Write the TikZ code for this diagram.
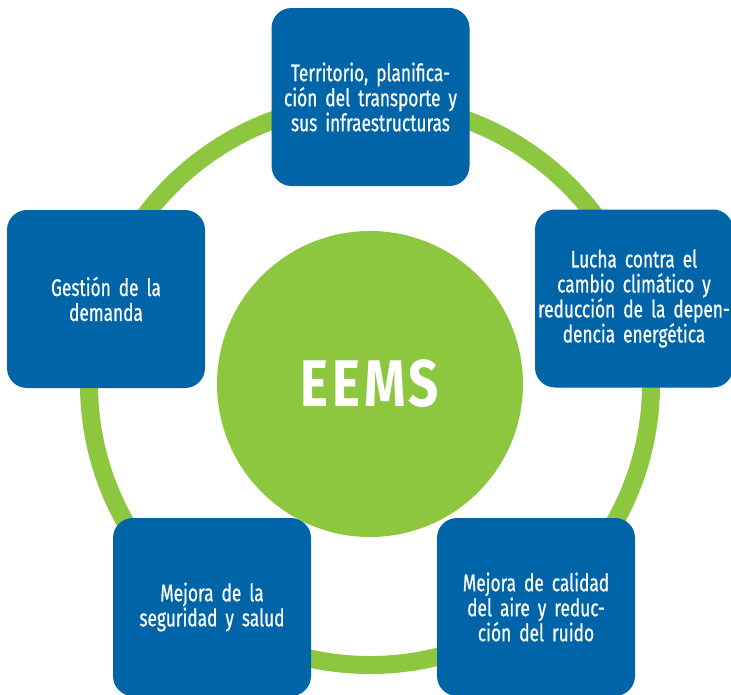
\documentclass[tikz,border=0pt]{standalone}
\usepackage{fontspec}
\newfontfamily\condfont[FakeStretch=0.72,FakeBold=0.6,WordSpace=0.6]{Fira Sans}
\newfontfamily\boldcond[FakeStretch=0.8,LetterSpace=6]{Fira Sans Bold}
\definecolor{eemsgreen}{RGB}{141,198,63}
\definecolor{eemsblue}{RGB}{0,101,168}
\tikzset{
  topic/.style={fill=eemsblue, rounded corners=20pt, minimum width=198pt, minimum height=178pt,
    text=white, align=center, inner sep=0pt, text width=197pt,
    font=\condfont\fontsize{24}{25}\selectfont},
  hub/.style={circle, fill=eemsgreen, minimum size=306pt, inner sep=0pt, text=white,
    font=\boldcond\fontsize{66}{70}\selectfont},
  ring/.style={draw=eemsgreen, line width=18pt}
}
\begin{document}
\begin{tikzpicture}[x=1pt,y=-1pt]
\useasboundingbox (0,0) rectangle (731,694);
\coordinate (c) at (370,384);
\draw[ring] (c) circle[radius=281];
\node[topic] (t1) at (370.5,97) {Territorio, planifica-\\ción del transporte y\\sus infraestructuras};
\node[topic] (t2) at (634,298.5) {Lucha contra el\\cambio climático y\\reducción de la depen-\\dencia energética};
\node[topic] (t3) at (536,607) {Mejora de calidad\\del aire y reduc-\\ción del ruido};
\node[topic] (t4) at (212,607) {Mejora de la\\seguridad y salud};
\node[topic] (t5) at (106,299) {Gestión de la\\demanda};
\node[hub] (h) at (c) {EEMS};
\end{tikzpicture}
\end{document}
